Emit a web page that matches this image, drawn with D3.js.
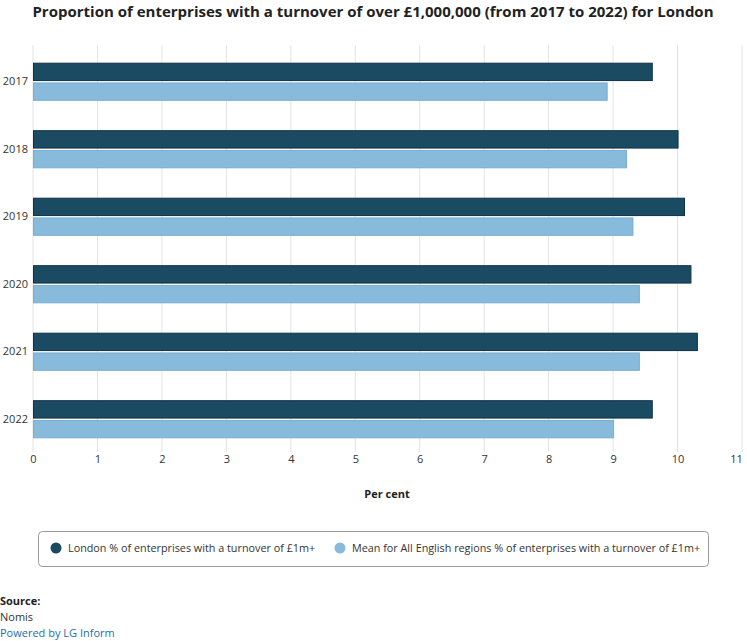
<!DOCTYPE html>
<html><head><meta charset="utf-8">
<script src="https://cdn.jsdelivr.net/npm/d3@7"></script>
<style>
body{margin:0;background:#fff;font-family:"Open Sans",sans-serif;}
svg text{font-family:"Open Sans",sans-serif;}
</style></head>
<body>
<svg id="chart" width="747" height="641"></svg>
<script>
const years = ["2017","2018","2019","2020","2021","2022"];
const seriesNames = ["London % of enterprises with a turnover of £1m+","Mean for All English regions % of enterprises with a turnover of £1m+"];
const londonValues = [9.6,10.0,10.1,10.2,10.3,9.6];
const englandMeanValues = [8.9,9.2,9.3,9.4,9.4,9.0];
const xTicks = [0,1,2,3,4,5,6,7,8,9,10,11];
const colors = ["#1b4a63","#87badb"];
const strokes = ["#0f3247","#78aed2"];

const svg = d3.select("#chart");
const x = d3.scaleLinear().domain([0,11]).range([33,742]);
const y = d3.scaleBand().domain(years).range([48,453]).paddingInner(0.45).paddingOuter(0.225);
const ySub = d3.scaleBand().domain([0,1]).range([0,y.bandwidth()]).paddingInner(0.12);

svg.append("text").attr("x",373).attr("y",17).attr("text-anchor","middle")
  .attr("font-size",15).attr("font-weight",700).attr("fill","#222")
  .text("Proportion of enterprises with a turnover of over £1,000,000 (from 2017 to 2022) for London");

// gridlines
svg.append("g").selectAll("line").data(xTicks).join("line")
  .attr("x1",d=>x(d)).attr("x2",d=>x(d)).attr("y1",45).attr("y2",452)
  .attr("stroke","#e3e3e3").attr("stroke-width",1);

// x axis labels
const xAxis = d3.axisBottom(x).tickValues(xTicks).tickSize(0).tickPadding(0);
const gx = svg.append("g").attr("transform","translate(0,455)").call(xAxis);
gx.select(".domain").remove();
gx.selectAll("text").attr("font-size",11).attr("fill","#333").attr("dy","0.71em")
  .attr("dx",(d)=> d===11 ? -6 : 0);

// y axis labels
const yAxis = d3.axisLeft(y).tickSize(0).tickPadding(0);
const gy = svg.append("g").attr("transform","translate(28,0)").call(yAxis);
gy.select(".domain").remove();
gy.selectAll("text").attr("font-size",11).attr("fill","#333").attr("dy","0.32em");

const data = [londonValues, englandMeanValues];
data.forEach((vals,si)=>{
  svg.append("g").selectAll("rect").data(years).join("rect")
    .attr("x",x(0)+0.5)
    .attr("y",d=>y(d)+ySub(si))
    .attr("width",(d,i)=>x(vals[i])-x(0))
    .attr("height",ySub.bandwidth())
    .attr("fill",colors[si]).attr("stroke",strokes[si]).attr("stroke-width",1);
});

svg.append("text").attr("x",387).attr("y",498).attr("text-anchor","middle")
  .attr("font-size",11).attr("font-weight",700).attr("fill","#222").text("Per cent");

// legend
svg.append("rect").attr("x",38.5).attr("y",531.5).attr("width",670).attr("height",35).attr("rx",4)
  .attr("fill","#fff").attr("stroke","#999");
const legX = [56,340];
seriesNames.forEach((n,i)=>{
  svg.append("circle").attr("cx",legX[i]).attr("cy",548).attr("r",5.5).attr("fill",colors[i]);
  svg.append("text").attr("x",legX[i]+12).attr("y",552).attr("font-size",10.8).attr("fill","#333").text(n);
});

// source
svg.append("text").attr("x",0).attr("y",605).attr("font-size",11).attr("font-weight",700).attr("fill","#222").text("Source:");
svg.append("text").attr("x",0).attr("y",621).attr("font-size",11).attr("fill","#333").text("Nomis");
svg.append("text").attr("x",0).attr("y",637).attr("font-size",11).attr("fill","#1d6fa9").text("Powered by LG Inform");
</script>
</body></html>
